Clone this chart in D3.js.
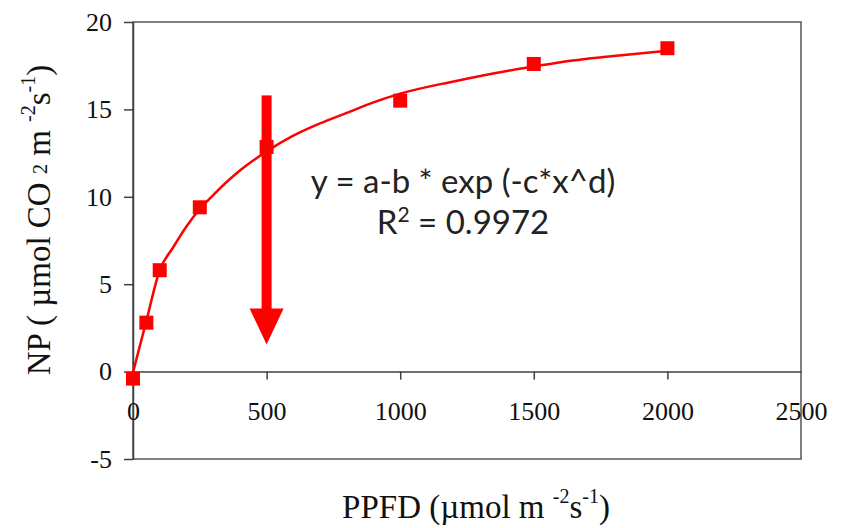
<!DOCTYPE html>
<html>
<head>
<meta charset="utf-8">
<script src="https://cdn.jsdelivr.net/npm/d3@7"></script>
<style>
  body { margin: 0; background: #fff; }
  svg { display: block; }
</style>
</head>
<body>
<div id="chart"></div>
<script>
// measured points (PPFD vs NP)
var ppfd = [0, 50, 100, 250, 500, 1000, 1500, 2000];
var np = [-0.4, 2.8, 5.8, 9.4, 12.85, 15.5, 17.6, 18.5];

// fitted curve
var fitX = [0, 50, 100, 150, 200, 250, 300, 400, 500, 600, 700, 800, 900, 1000, 1200, 1400, 1500, 1600, 1800, 2000];
var fitY = [-0.05, 2.9, 5.8, 7.1, 8.3, 9.3, 10.1, 11.5, 12.6, 13.5, 14.2, 14.8, 15.4, 15.9, 16.6, 17.2, 17.45, 17.7, 18.05, 18.35];

var xTicks = [0, 500, 1000, 1500, 2000, 2500];
var yTicks = [-5, 0, 5, 10, 15, 20];

// arrow annotation (data units)
var arrowX = 500;
var arrowFrom = 15.8;
var arrowTo = 1.55;

var eqLines = ["y = a-b  *  exp (-c*x^d)", "R|2| = 0.9972"];

var W = 845, H = 528;
var margin = {top: 22, right: 44, bottom: 69, left: 133};
var width = W - margin.left - margin.right;
var height = H - margin.top - margin.bottom;

var svg = d3.select("#chart").append("svg")
  .attr("width", W)
  .attr("height", H);

var g = svg.append("g")
  .attr("transform", "translate(" + margin.left + "," + margin.top + ")");

var x = d3.scaleLinear().domain([0, 2500]).range([0, width]);
var y = d3.scaleLinear().domain([-5, 20]).range([height, 0]);

var serif = "'Liberation Serif', 'Times New Roman', serif";
var axisColor = "#404040";
var fmt = function(d) { return String(d); };

// frame: top, right, bottom
g.append("rect")
  .attr("x", 0).attr("y", 0)
  .attr("width", width).attr("height", height)
  .attr("fill", "none")
  .attr("stroke", "#555")
  .attr("stroke-width", 1.5);

// y axis
var yAxis = g.append("g")
  .call(d3.axisLeft(y).tickValues(yTicks).tickFormat(fmt).tickSize(9).tickPadding(12).tickSizeOuter(0))
  .attr("font-family", serif)
  .attr("font-size", 26);
yAxis.select(".domain").attr("stroke", axisColor).attr("stroke-width", 1.5);
yAxis.selectAll(".tick line").attr("stroke", axisColor).attr("stroke-width", 1.5);
yAxis.selectAll(".tick text").attr("fill", "#111");

// x axis sits on y = 0, ticks pointing down
var xAxis = g.append("g")
  .attr("transform", "translate(0," + y(0) + ")")
  .call(d3.axisBottom(x).tickValues(xTicks).tickFormat(fmt).tickSize(8).tickPadding(22).tickSizeOuter(0))
  .attr("font-family", serif)
  .attr("font-size", 26);
xAxis.select(".domain").attr("stroke", axisColor).attr("stroke-width", 1.5);
xAxis.selectAll(".tick line")
  .attr("stroke", axisColor).attr("stroke-width", 1.5)
  .attr("display", function(d) { return (d === 0 || d === 2500) ? "none" : null; });
xAxis.selectAll(".tick text").attr("fill", "#111");

// fitted curve
var line = d3.line()
  .x(function(d, i) { return x(fitX[i]); })
  .y(function(d) { return y(d); })
  .curve(d3.curveMonotoneX);

g.append("path")
  .datum(fitY)
  .attr("d", line)
  .attr("fill", "none")
  .attr("stroke", "#ff0000")
  .attr("stroke-width", 2.5);

// squares
var sq = 14;
g.selectAll(".pt")
  .data(np)
  .enter()
  .append("rect")
  .attr("class", "pt")
  .attr("x", function(d, i) { return x(ppfd[i]) - sq / 2; })
  .attr("y", function(d) { return y(d) - sq / 2; })
  .attr("width", sq)
  .attr("height", sq)
  .attr("fill", "#ff0000");

// arrow
var ax = x(arrowX);
var headLen = 36, headW = 34, shaftW = 10;
var y0 = y(arrowFrom), y1 = y(arrowTo);
g.append("rect")
  .attr("x", ax - shaftW / 2)
  .attr("y", y0)
  .attr("width", shaftW)
  .attr("height", (y1 - headLen) - y0 + 1)
  .attr("fill", "#ff0000");
g.append("path")
  .attr("d", "M" + (ax - headW / 2) + "," + (y1 - headLen) +
             "L" + (ax + headW / 2) + "," + (y1 - headLen) +
             "L" + ax + "," + y1 + "Z")
  .attr("fill", "#ff0000");

// equation text
var eq = svg.append("g")
  .style("font-family", "Lato, 'Open Sans', sans-serif")
  .style("font-size", "33px")
  .style("white-space", "pre")
  .attr("fill", "#222")
  .attr("text-anchor", "middle");

eq.append("text")
  .attr("x", 463).attr("y", 193)
  .text(eqLines[0]);

var r2 = eqLines[1].split("|");
var t2 = eq.append("text").attr("x", 463).attr("y", 234);
t2.append("tspan").text(r2[0]);
t2.append("tspan").attr("dy", -12).style("font-size", "21px").text(r2[1]);
t2.append("tspan").attr("dy", 12).text(r2[2]);

// y title
var yt = svg.append("text")
  .attr("transform", "translate(50,220) rotate(-90)")
  .attr("text-anchor", "middle")
  .attr("fill", "#111")
  .style("font-family", serif)
  .style("font-size", "33px")
  .style("white-space", "pre");
yt.append("tspan").text("NP ( \u00b5mol CO ");
yt.append("tspan").attr("dy", -3).style("font-size", "20px").text("2");
yt.append("tspan").attr("dy", 3).text(" m ");
yt.append("tspan").attr("dy", -15).style("font-size", "20px").text("-2");
yt.append("tspan").attr("dy", 15).text("s");
yt.append("tspan").attr("dy", -15).style("font-size", "20px").text("-1");
yt.append("tspan").attr("dy", 15).text(")");

// x title
var xt = svg.append("text")
  .attr("x", 476).attr("y", 518)
  .attr("text-anchor", "middle")
  .attr("fill", "#111")
  .style("font-family", serif)
  .style("font-size", "33px")
  .style("white-space", "pre");
xt.append("tspan").text("PPFD (\u00b5mol m ");
xt.append("tspan").attr("dy", -15).style("font-size", "20px").text("-2");
xt.append("tspan").attr("dy", 15).text("s");
xt.append("tspan").attr("dy", -15).style("font-size", "20px").text("-1");
xt.append("tspan").attr("dy", 15).text(")");
</script>
</body>
</html>
